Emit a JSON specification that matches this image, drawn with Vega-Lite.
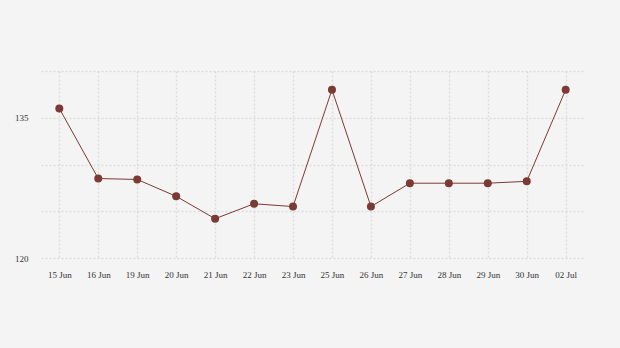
{
  "$schema": "https://vega.github.io/schema/vega-lite/v6.json",
  "autosize": "none",
  "width": 543,
  "height": 187,
  "padding": {"left": 41, "top": 71, "right": 36, "bottom": 90},
  "background": "#f4f4f4",
  "config": {
    "view": {"stroke": null},
    "font": "Liberation Serif"
  },
  "data": {
    "values": [
      {"date": "15 Jun", "value": 136.0},
      {"date": "16 Jun", "value": 128.5},
      {"date": "19 Jun", "value": 128.4},
      {"date": "20 Jun", "value": 126.6},
      {"date": "21 Jun", "value": 124.2},
      {"date": "22 Jun", "value": 125.8},
      {"date": "23 Jun", "value": 125.5},
      {"date": "25 Jun", "value": 138.0},
      {"date": "26 Jun", "value": 125.5},
      {"date": "27 Jun", "value": 128.0},
      {"date": "28 Jun", "value": 128.0},
      {"date": "29 Jun", "value": 128.0},
      {"date": "30 Jun", "value": 128.2},
      {"date": "02 Jul", "value": 138.0}
    ]
  },
  "encoding": {
    "x": {
      "field": "date",
      "type": "ordinal",
      "sort": null,
      "scale": {"type": "point", "padding": 0.47},
      "axis": {
        "title": null,
        "labelAngle": 0,
        "labelFont": "Liberation Serif",
        "labelFontSize": 9,
        "labelColor": "#333333",
        "labelPadding": 12,
        "domain": false,
        "ticks": false,
        "grid": true,
        "gridColor": "#dddddd",
        "gridDash": [2, 2],
        "gridWidth": 1.5
      }
    },
    "y": {
      "field": "value",
      "type": "quantitative",
      "scale": {"domain": [120, 140], "nice": false, "zero": false},
      "axis": {
        "title": null,
        "values": [120, 125, 130, 135, 140],
        "labelExpr": "datum.value == 120 || datum.value == 135 ? datum.label : ''",
        "labelFont": "Liberation Serif",
        "labelFontSize": 9,
        "labelColor": "#333333",
        "labelPadding": 13,
        "domain": false,
        "ticks": false,
        "grid": true,
        "gridColor": "#dddddd",
        "gridDash": [2, 2],
        "gridWidth": 1.5
      }
    }
  },
  "layer": [
    {"mark": {"type": "line", "color": "#7b3a33", "strokeWidth": 1}},
    {"mark": {"type": "circle", "color": "#7b3a33", "opacity": 1, "size": 64}}
  ]
}
